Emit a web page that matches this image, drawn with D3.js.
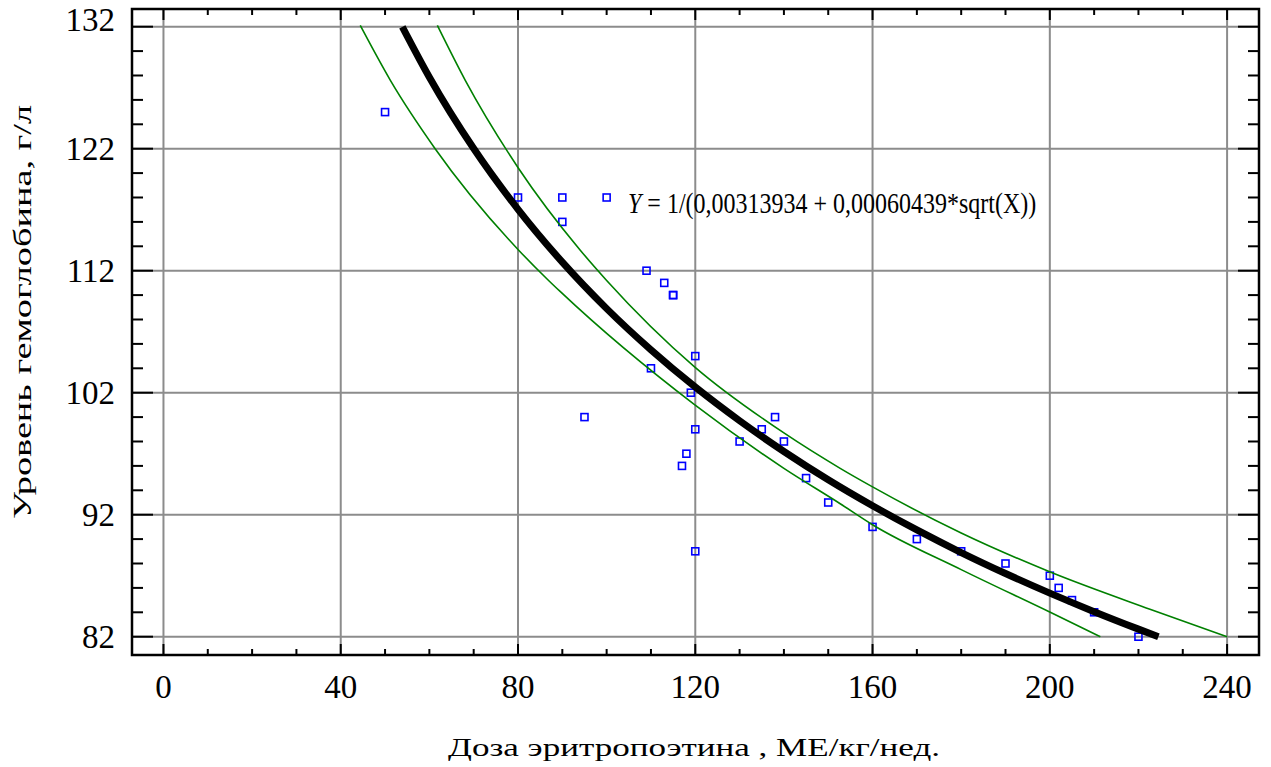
<!DOCTYPE html>
<html>
<head>
<meta charset="utf-8">
<script src="https://cdn.jsdelivr.net/npm/d3@7/dist/d3.min.js"></script>
<style>
  body { margin: 0; background: #fff; }
  svg { display: block; font-family: "Liberation Serif", "Tinos", "DejaVu Serif", serif; }
</style>
</head>
<body>
<div id="chart"></div>
<script>
// observed points: dose (x) and hemoglobin (y)
var doseX = [50, 80, 90, 90, 100, 109, 113, 115, 115, 120, 110, 119, 95, 120, 130, 118, 117, 120, 138, 135, 140, 145, 150, 160, 170, 180, 190, 200, 202, 205, 210, 220];
var hbY = [125, 118, 118, 116, 118, 112, 111, 110, 110, 105, 104, 102, 100, 99, 98, 97, 96, 89, 100, 99, 98, 95, 93, 91, 90, 89, 88, 87, 86, 85, 84, 82];

// fitted model Y = 1/(0,00313934 + 0,00060439*sqrt(X))
var fitX = [53.9, 60, 70, 80, 90, 100, 110, 120, 130, 140, 150, 160, 170, 180, 190, 200, 210, 220, 224.5];
var fitY = [131.99, 127.86, 122.01, 117.03, 112.70, 108.89, 105.51, 102.46, 99.70, 97.18, 94.86, 92.73, 90.75, 88.90, 87.18, 85.57, 84.05, 82.62, 82.00];

// confidence limits (green)
var upperX = [61.8, 68.1, 80.1, 94.0, 100, 119.9, 140, 152.7, 159.9, 180, 200.1, 222.6, 240];
var upperY = [132.1, 127.6, 120.4, 113.7, 111.2, 104.1, 98.7, 95.8, 94.3, 90.5, 87.3, 84.25, 82];
var lowerX = [44.4, 51.2, 61.3, 80.1, 86.9, 89.5, 119.9, 140, 152.7, 159.9, 180, 200.1, 211.4];
var lowerY = [132.1, 127.6, 122.0, 113.7, 111.2, 110.3, 101.0, 95.8, 92.9, 91.2, 87.5, 84.0, 82.0];

var xTicks = [0, 40, 80, 120, 160, 200, 240];
var yTicks = [82, 92, 102, 112, 122, 132];

var W = 1271, H = 767;
var margin = { top: 9, left: 132, right: 12, bottom: 112 };
var width = W - margin.left - margin.right,
    height = H - margin.top - margin.bottom;

var x = d3.scaleLinear().domain([-7.1, 247.2]).range([0, width]);
var y = d3.scaleLinear().domain([80.5, 133.45]).range([height, 0]);

var svg = d3.select('#chart').append('svg')
    .attr('width', W)
    .attr('height', H);

svg.append('defs').append('clipPath')
    .attr('id', 'plotclip')
    .append('rect')
    .attr('width', width)
    .attr('height', height);

var g = svg.append('g')
    .attr('transform', 'translate(' + margin.left + ',' + margin.top + ')');

// grid
g.append('g').selectAll('line')
    .data(xTicks).enter().append('line')
    .attr('x1', function(d) { return x(d); })
    .attr('x2', function(d) { return x(d); })
    .attr('y1', 0).attr('y2', height)
    .attr('stroke', '#8c8c8c').attr('stroke-width', 2);

g.append('g').selectAll('line')
    .data(yTicks).enter().append('line')
    .attr('y1', function(d) { return y(d); })
    .attr('y2', function(d) { return y(d); })
    .attr('x1', 0).attr('x2', width)
    .attr('stroke', '#8c8c8c').attr('stroke-width', 2);

// ticks, inward on all four sides
var xMinor = d3.range(0, 241, 10);
var yMinor = d3.range(82, 133, 2);

function xTickLen(d) { return d % 40 === 0 ? 11 : 6; }
function yTickLen(d) { return (d - 82) % 10 === 0 ? 21 : 11; }

var ticks = g.append('g').attr('stroke', '#000').attr('stroke-width', 2);

ticks.selectAll('.xb').data(xMinor).enter().append('line')
    .attr('x1', function(d) { return x(d); })
    .attr('x2', function(d) { return x(d); })
    .attr('y1', height).attr('y2', function(d) { return height - xTickLen(d); });

ticks.selectAll('.xt').data(xMinor).enter().append('line')
    .attr('x1', function(d) { return x(d); })
    .attr('x2', function(d) { return x(d); })
    .attr('y1', 0).attr('y2', function(d) { return xTickLen(d); });

ticks.selectAll('.yl').data(yMinor).enter().append('line')
    .attr('y1', function(d) { return y(d); })
    .attr('y2', function(d) { return y(d); })
    .attr('x1', 0).attr('x2', function(d) { return yTickLen(d); });

ticks.selectAll('.yr').data(yMinor).enter().append('line')
    .attr('y1', function(d) { return y(d); })
    .attr('y2', function(d) { return y(d); })
    .attr('x1', width).attr('x2', function(d) { return width - yTickLen(d); });

// data points
var pts = doseX.map(function(d, i) { return [d, hbY[i]]; });
var plot = g.append('g').attr('clip-path', 'url(#plotclip)');

plot.selectAll('rect.pt')
    .data(pts).enter().append('rect')
    .attr('class', 'pt')
    .attr('x', function(d) { return x(d[0]) - 3.5; })
    .attr('y', function(d) { return y(d[1]) - 3.5; })
    .attr('width', 7).attr('height', 7)
    .attr('fill', 'none')
    .attr('stroke', '#0000ff')
    .attr('stroke-width', 1.6);

var line = d3.line()
    .x(function(d) { return x(d[0]); })
    .y(function(d) { return y(d[1]); })
    .curve(d3.curveMonotoneX);

function zipXY(a, b) { return a.map(function(d, i) { return [d, b[i]]; }); }

plot.append('path')
    .datum(zipXY(upperX, upperY))
    .attr('d', line)
    .attr('fill', 'none').attr('stroke', '#008000').attr('stroke-width', 1.6);

plot.append('path')
    .datum(zipXY(lowerX, lowerY))
    .attr('d', line)
    .attr('fill', 'none').attr('stroke', '#008000').attr('stroke-width', 1.6);

plot.append('path')
    .datum(zipXY(fitX, fitY))
    .attr('d', line)
    .attr('fill', 'none').attr('stroke', '#000').attr('stroke-width', 7);

// frame
g.append('rect')
    .attr('width', width).attr('height', height)
    .attr('fill', 'none').attr('stroke', '#000').attr('stroke-width', 2.5);

// tick labels
g.append('g').selectAll('text')
    .data(xTicks).enter().append('text')
    .attr('x', function(d) { return x(d); })
    .attr('y', height + 43)
    .attr('text-anchor', 'middle')
    .style('font-size', '33px')
    .text(function(d) { return d; });

// top label sits a little higher than its tick, as in the original
g.append('g').selectAll('text')
    .data(yTicks).enter().append('text')
    .attr('x', -17)
    .attr('y', function(d, i) { return y(d) - (i === yTicks.length - 1 ? 6.5 : 0); })
    .attr('dy', '0.34em')
    .attr('text-anchor', 'end')
    .style('font-size', '33px')
    .text(function(d) { return d; });

// equation (the original's lettering is a bit taller than wide)
var eq = svg.append('text')
    .attr('transform', 'translate(628,213) scale(1,1.2)')
    .style('font-size', '24px');
eq.append('tspan').style('font-style', 'italic').text('Y');
eq.append('tspan').text(' = 1/(0,00313934 + 0,00060439*sqrt(X))');

// axis titles
svg.append('text')
    .attr('x', 694)
    .attr('y', 756)
    .attr('text-anchor', 'middle')
    .attr('textLength', 492)
    .attr('lengthAdjust', 'spacingAndGlyphs')
    .style('font-size', '26px')
    .text('Доза эритропоэтина , МЕ/кг/нед.');

svg.append('text')
    .attr('transform', 'translate(31,312) rotate(-90)')
    .attr('text-anchor', 'middle')
    .attr('textLength', 414)
    .attr('lengthAdjust', 'spacingAndGlyphs')
    .style('font-size', '26px')
    .text('Уровень гемоглобина, г/л');
</script>
</body>
</html>
